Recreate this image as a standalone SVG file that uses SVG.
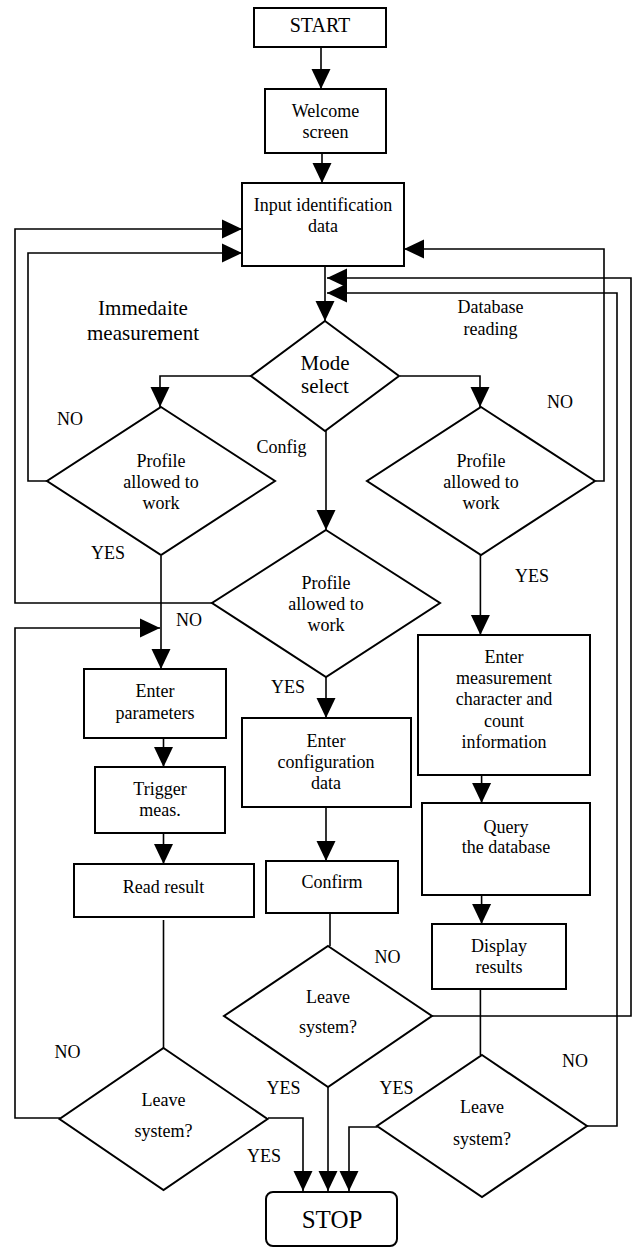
<svg xmlns="http://www.w3.org/2000/svg" width="633" height="1247" viewBox="0 0 633 1247">
<style>
.n{fill:#fff;stroke:#000;stroke-width:2}
.t{font-family:"Liberation Serif","Times New Roman",serif;font-size:18px;text-anchor:middle;fill:#000}
.c{fill:none;stroke:#000;stroke-width:1.6}
.a{marker-end:url(#ah)}
</style>
<defs>
<marker id="ah" viewBox="0 0 20 20" refX="20" refY="10" markerWidth="20" markerHeight="20" markerUnits="userSpaceOnUse" orient="auto"><path d="M0,0.5 L20,10 L0,19.5 z" fill="#000"/></marker>
</defs>
<rect width="633" height="1247" fill="#fff"/>
<g id="connectors">
<path class="c a" d="M321,47 V89"/>
<path class="c a" d="M322,153 V183"/>
<path class="c a" d="M325,266 V321"/>
<path class="c a" d="M212,603 H15 V229 H242"/>
<path class="c a" d="M47.6,481 H28 V253 H242"/>
<path class="c a" d="M595.5,481 H604 V249 H404"/>
<path class="c a" d="M431,1016 H631 V278 H327"/>
<path class="c a" d="M587,1126 H617 V293 H327"/>
<path class="c a" d="M252,376 H160 V407"/>
<path class="c a" d="M400,376 H480 V407"/>
<path class="c a" d="M326,431 V530"/>
<path class="c a" d="M161,556 V669"/>
<path class="c a" d="M60,1118 H15 V628 H160"/>
<path class="c a" d="M163.5,738 V767"/>
<path class="c a" d="M163.5,833 V864"/>
<path class="c" d="M163.5,920 V1048"/>
<path class="c a" d="M326,677 V718"/>
<path class="c a" d="M326,807 V861"/>
<path class="c" d="M330,913 V946"/>
<path class="c a" d="M480.4,555 V635"/>
<path class="c a" d="M481.6,775 V803"/>
<path class="c a" d="M481.6,895 V924"/>
<path class="c" d="M480.4,989 V1055"/>
<path class="c a" d="M268,1118 H303 V1191"/>
<path class="c a" d="M328,1087 V1191"/>
<path class="c a" d="M377.5,1127 H349 V1191"/>
</g>
<g id="start"><rect class="n" x="254" y="8" width="132" height="39"/><text class="t" x="320" y="32" style="font-size:20px">START</text></g>
<g id="welcome"><rect class="n" x="265" y="89" width="121" height="64"/><text class="t" x="325.5" y="117">Welcome</text><text class="t" x="325.5" y="138">screen</text></g>
<g id="input"><rect class="n" x="242" y="183" width="162" height="83"/><text class="t" x="323" y="211">Input identification</text><text class="t" x="323" y="232">data</text></g>
<g id="mode"><polygon class="n" points="325,321 399,376 325,431 251,376"/><text class="t" x="325" y="370" style="font-size:21px">Mode</text><text class="t" x="325" y="393" style="font-size:21px">select</text></g>
<g id="profile-left"><polygon class="n" points="161,407 275,481 161,555 47,481"/><text class="t" x="161" y="467">Profile</text><text class="t" x="161" y="488">allowed to</text><text class="t" x="161" y="509">work</text></g>
<g id="profile-right"><polygon class="n" points="481,407 595,481 481,555 367,481"/><text class="t" x="481" y="467">Profile</text><text class="t" x="481" y="488">allowed to</text><text class="t" x="481" y="509">work</text></g>
<g id="profile-mid"><polygon class="n" points="326,530 440,603 326,677 212,603"/><text class="t" x="326" y="589">Profile</text><text class="t" x="326" y="610">allowed to</text><text class="t" x="326" y="631">work</text></g>
<g id="enter-params"><rect class="n" x="84" y="669" width="142" height="69"/><text class="t" x="155" y="697">Enter</text><text class="t" x="155" y="719">parameters</text></g>
<g id="trigger"><rect class="n" x="95" y="767" width="130" height="66"/><text class="t" x="160" y="795">Trigger</text><text class="t" x="160" y="816">meas.</text></g>
<g id="read"><rect class="n" x="74" y="864" width="180" height="53"/><text class="t" x="163.5" y="893">Read result</text></g>
<g id="enter-config"><rect class="n" x="242" y="718" width="169" height="89"/><text class="t" x="326" y="747">Enter</text><text class="t" x="326" y="768">configuration</text><text class="t" x="326" y="789">data</text></g>
<g id="confirm"><rect class="n" x="266" y="861" width="132" height="52"/><text class="t" x="332" y="888">Confirm</text></g>
<g id="enter-meas"><rect class="n" x="418" y="635" width="172" height="140"/><text class="t" x="504" y="663">Enter</text><text class="t" x="504" y="684">measurement</text><text class="t" x="504" y="705">character and</text><text class="t" x="504" y="727">count</text><text class="t" x="504" y="748">information</text></g>
<g id="query"><rect class="n" x="422" y="803" width="168" height="92"/><text class="t" x="506" y="833">Query</text><text class="t" x="506" y="853">the database</text></g>
<g id="display"><rect class="n" x="432" y="924" width="134" height="65"/><text class="t" x="499" y="952">Display</text><text class="t" x="499" y="973">results</text></g>
<g id="leave-mid"><polygon class="n" points="328,946 432,1016 328,1087 224,1016"/><text class="t" x="328" y="1003">Leave</text><text class="t" x="328" y="1033">system?</text></g>
<g id="leave-left"><polygon class="n" points="163.5,1048 267.5,1119 163.5,1190 59.5,1119"/><text class="t" x="163.5" y="1106">Leave</text><text class="t" x="163.5" y="1137">system?</text></g>
<g id="leave-right"><polygon class="n" points="482,1055 587,1126 482,1197 377,1126"/><text class="t" x="482" y="1113">Leave</text><text class="t" x="482" y="1145">system?</text></g>
<g id="stop"><rect class="n" x="266" y="1192" width="131" height="54" rx="7"/><text class="t" x="332" y="1228" style="font-size:25px">STOP</text></g>
<g id="labels">
<text class="t" x="143" y="315" style="font-size:21px">Immedaite</text>
<text class="t" x="143" y="340" style="font-size:21px">measurement</text>
<text class="t" x="490.5" y="313">Database</text>
<text class="t" x="490.5" y="335">reading</text>
<text class="t" x="70" y="425">NO</text>
<text class="t" x="281.5" y="453">Config</text>
<text class="t" x="560" y="408">NO</text>
<text class="t" x="108" y="559">YES</text>
<text class="t" x="532" y="582">YES</text>
<text class="t" x="189" y="626">NO</text>
<text class="t" x="288" y="693">YES</text>
<text class="t" x="387.5" y="963">NO</text>
<text class="t" x="67.6" y="1058">NO</text>
<text class="t" x="575" y="1067">NO</text>
<text class="t" x="283.6" y="1094">YES</text>
<text class="t" x="396.6" y="1094">YES</text>
<text class="t" x="264" y="1162">YES</text>
</g>
</svg>
